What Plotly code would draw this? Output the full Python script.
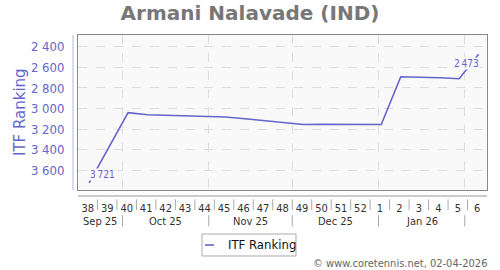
import datetime as dt
import plotly.graph_objects as go

# ---- data ----
week_years = [2025] * 15 + [2026] * 6
weeks = [38, 39, 40, 41, 42, 43, 44, 45, 46, 47, 48, 49, 50, 51, 52, 1, 2, 3, 4, 5, 6]
ranking = [3721, None, 3040, 3060, 3065, 3071, 3078, 3082, 3099, 3118, 3134, 3154,
           3153, 3153, 3155, 3155, 2691, 2694, 2701, 2711, 2473]
month_labels = ["Sep 25", "Oct 25", "Nov 25", "Dec 25", "Jan 26"]
month_starts = ["2025-10-01", "2025-11-01", "2025-12-01", "2026-01-01", "2026-02-01"]
series_name = "ITF Ranking"
title = "Armani Nalavade (IND)"
footer = "© www.coretennis.net, 02-04-2026"

# ---- derived positions ----
mondays = [dt.date.fromisocalendar(y, w, 1) for y, w in zip(week_years, weeks)]
point_x = [dt.datetime.combine(dt.date.fromisocalendar(y, w, 5), dt.time()) for y, w in zip(week_years, weeks)]
tick_x = [dt.datetime.combine(m, dt.time()) + dt.timedelta(days=3.5) for m in mondays]
x_start = dt.datetime.combine(mondays[0], dt.time())
x_end = dt.datetime.combine(mondays[-1], dt.time()) + dt.timedelta(days=7)

LINE = "#6464cc"
PLOT_BG = "#f9f9f9"
COND = "DejaVu Sans Condensed, DejaVu Sans"

fig = go.Figure()
fig.add_trace(go.Scatter(x=point_x, y=ranking, mode="lines", name=series_name,
                         line=dict(color=LINE, width=1.6), connectgaps=True,
                         hoverinfo="skip", showlegend=False))

shapes = []
# y-axis line (offset left of plot)
shapes.append(dict(type="line", xref="paper", yref="paper", x0=-0.0122, x1=-0.0122, y0=0, y1=1,
                   line=dict(color="#b4b4e6", width=1)))
# x-axis line below plot
shapes.append(dict(type="line", xref="paper", yref="paper", x0=0, x1=1, y0=-0.0387, y1=-0.0387,
                   line=dict(color="#999999", width=1)))
# week separators
for m in mondays[1:]:
    shapes.append(dict(type="line", xref="x", yref="paper", x0=m, x1=m, y0=-0.06, y1=-0.13,
                       line=dict(color="#aaaaaa", width=1)))
# month separators
for ms in month_starts:
    shapes.append(dict(type="line", xref="x", yref="paper", x0=ms, x1=ms, y0=-0.162, y1=-0.235,
                       line=dict(color="#aaaaaa", width=1)))
# legend box + sample line
shapes.append(dict(type="rect", xref="paper", yref="paper", x0=0.3032, x1=0.533, y0=-0.4258, y1=-0.2839,
                   line=dict(color="#aaaaaa", width=1), fillcolor="white"))
shapes.append(dict(type="line", xref="paper", yref="paper", x0=0.3105, x1=0.3325, y0=-0.3548, y1=-0.3548,
                   line=dict(color=LINE, width=1.6)))

annotations = []
# month labels centered within the visible part of each month
bounds = [x_start] + [dt.datetime.fromisoformat(s) for s in month_starts]
for i, lab in enumerate(month_labels):
    a, b = bounds[i], min(bounds[i + 1], x_end)
    annotations.append(dict(x=a + (b - a) / 2, y=-0.2, xref="x", yref="paper", text=lab,
                            showarrow=False, font=dict(size=11, color="#333333", family=COND),
                            xanchor="center", yanchor="middle"))

def fmt(v):
    return f"{v:,}".replace(",", "\u2009")

# value labels for first and last points
valid = [(x, v) for x, v in zip(point_x, ranking) if v is not None]
fx, fv = valid[0]
lx, lv = valid[-1]
annotations.append(dict(x=fx, y=fv, xref="x", yref="y", text=fmt(fv), showarrow=False,
                        xshift=13, yshift=8, bgcolor=PLOT_BG, borderpad=0,
                        font=dict(size=10, color=LINE, family=COND), xanchor="center", yanchor="middle"))
annotations.append(dict(x=lx, y=lv, xref="x", yref="y", text=fmt(lv), showarrow=False,
                        xshift=-12, yshift=-9, bgcolor=PLOT_BG, borderpad=0,
                        font=dict(size=10, color=LINE, family=COND), xanchor="center", yanchor="middle"))
# legend text
annotations.append(dict(x=0.3619, y=-0.3548, xref="paper", yref="paper", text=series_name,
                        showarrow=False, font=dict(size=13, color="#111111", family=COND),
                        xanchor="left", yanchor="middle"))
# y-axis title
annotations.append(dict(x=-0.1418, y=0.503, xref="paper", yref="paper", text=series_name,
                        textangle=-90, showarrow=False,
                        font=dict(size=15, color=LINE, family="DejaVu Sans"),
                        xanchor="center", yanchor="middle"))
# footer
annotations.append(dict(x=1.005, y=-0.477, xref="paper", yref="paper", text=footer,
                        showarrow=False, font=dict(size=11, color="#666666", family=COND),
                        xanchor="right", yanchor="middle"))

fig.update_layout(
    width=500, height=270,
    margin=dict(l=78, r=13, t=35, b=80, autoexpand=False),
    paper_bgcolor="white", plot_bgcolor=PLOT_BG,
    font=dict(family="DejaVu Sans"),
    separators=". ",
    title=dict(text=title, x=0.5, xanchor="center", y=0.952, yanchor="middle",
               font=dict(size=20, color="#777777", family="DejaVu Sans", weight="bold")),
    showlegend=False,
    shapes=shapes, annotations=annotations,
)
fig.update_xaxes(type="date", range=[x_start, x_end], tickmode="array", tickvals=tick_x,
                 ticktext=[str(w) for w in weeks], ticks="", ticklabelstandoff=8,
                 tickfont=dict(size=11, color="#333333", family=COND), showgrid=False, automargin=False,
                 minor=dict(tickmode="array", tickvals=month_starts, showgrid=True,
                            gridcolor="#dddddd", griddash="dash", gridwidth=1, ticks=""),
                 showline=True, linecolor="#888888", mirror=True, zeroline=False)
fig.update_yaxes(range=[3790, 2286], tickmode="linear", tick0=2400, dtick=200,
                 tickformat=",d", ticks="", ticklabelstandoff=10, automargin=False,
                 tickfont=dict(size=13, color=LINE, family=COND), showgrid=True, gridcolor="#dddddd",
                 griddash="dash", showline=True, linecolor="#888888", mirror=True,
                 zeroline=False)

fig.write_html("out.html")
